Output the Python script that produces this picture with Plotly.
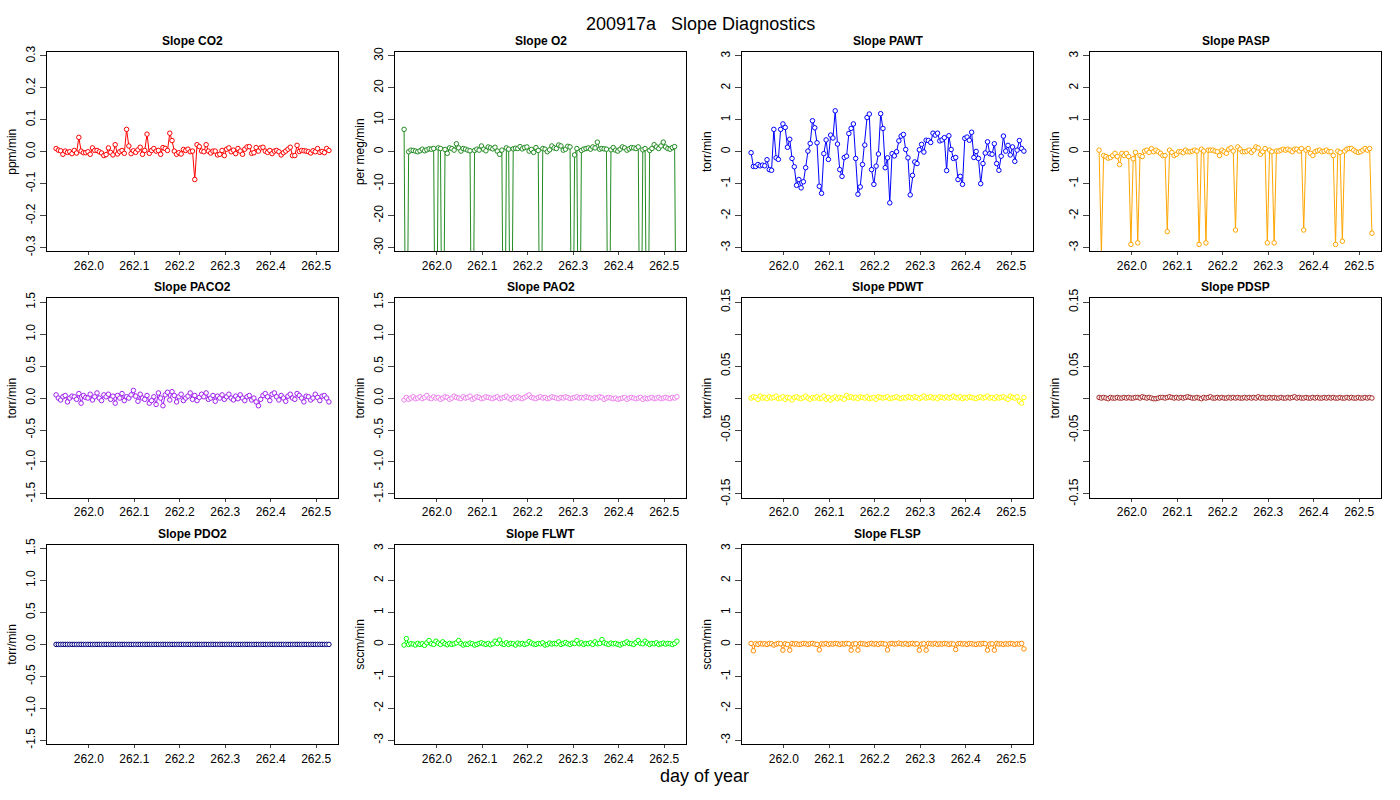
import plotly.graph_objects as go

# day of year for each sample
doy = [261.928, 261.933, 261.938, 261.943, 261.948, 261.953, 261.958, 261.963, 261.968, 261.973,
       261.978, 261.983, 261.988, 261.993, 261.998, 262.003, 262.008, 262.013, 262.018, 262.023,
       262.028, 262.033, 262.038, 262.043, 262.048, 262.053, 262.058, 262.063, 262.068, 262.073,
       262.078, 262.083, 262.088, 262.093, 262.098, 262.103, 262.108, 262.113, 262.118, 262.123,
       262.128, 262.133, 262.138, 262.143, 262.148, 262.153, 262.158, 262.163, 262.168, 262.173,
       262.178, 262.183, 262.188, 262.193, 262.198, 262.203, 262.208, 262.213, 262.218, 262.223,
       262.228, 262.233, 262.238, 262.243, 262.248, 262.253, 262.258, 262.263, 262.268, 262.273,
       262.278, 262.283, 262.288, 262.293, 262.298, 262.303, 262.308, 262.313, 262.318, 262.323,
       262.328, 262.333, 262.338, 262.343, 262.348, 262.353, 262.358, 262.363, 262.368, 262.373,
       262.378, 262.383, 262.388, 262.393, 262.398, 262.403, 262.408, 262.413, 262.418, 262.423,
       262.428, 262.433, 262.438, 262.443, 262.448, 262.453, 262.458, 262.463, 262.468, 262.473,
       262.478, 262.483, 262.488, 262.493, 262.498, 262.503, 262.508, 262.513, 262.518, 262.523,
       262.528]

co2 = [0.010, 0.005, 0.003, -0.008, 0.002, -0.002, 0.000, -0.006, 0.004, -0.004,
       0.045, 0.002, -0.003, -0.003, 0.000, -0.008, 0.012, 0.004, 0.004, 0.000,
       -0.004, -0.012, -0.009, 0.012, -0.002, -0.010, 0.022, -0.007, 0.000, 0.004,
       -0.005, 0.070, 0.018, -0.006, 0.003, -0.002, 0.006, 0.014, -0.008, 0.004,
       0.055, -0.005, 0.004, 0.010, 0.002, 0.004, -0.008, 0.013, 0.010, 0.004,
       0.058, 0.035, 0.002, -0.008, -0.003, -0.007, 0.007, 0.004, 0.008, 0.000,
       0.002, -0.087, 0.022, 0.016, 0.002, 0.000, 0.022, 0.002, -0.004, 0.002,
       0.002, -0.010, -0.008, 0.004, -0.012, 0.008, 0.012, 0.000, 0.005, -0.006,
       0.010, 0.002, -0.008, 0.008, 0.015, 0.016, -0.005, -0.003, 0.013, 0.002,
       0.012, 0.014, 0.002, -0.002, 0.004, -0.006, 0.002, 0.004, 0.000, -0.010,
       -0.003, 0.002, 0.008, 0.014, -0.012, -0.012, 0.020, 0.001, 0.004, 0.003,
       0.002, 0.000, -0.004, 0.003, 0.000, 0.010, -0.002, 0.001, -0.003, 0.010,
       0.004]

o2 = [7.0, -100, 0.0, 0.5, 0.4, 0.2, 0.0, 0.3, 0.8, 0.3,
      0.6, 0.9, 0.8, 1.0, -100, 1.2, 1.0, -100, 0.7, -0.5,
      1.2, 1.0, 0.5, 2.5, 1.2, 0.2, 1.0, 0.8, 0.5, 0.3,
      -100, 0.4, 0.8, 0.5, 1.8, 0.8, 0.3, 1.5, 1.2, 0.9,
      1.4, 0.2, -0.8, 0.5, -100, 1.2, 0.8, -100, 0.9, 1.1,
      1.0, 1.6, 0.9, 1.3, 1.5, 0.2, 0.7, -0.2, 1.3, 0.4,
      -100, 1.0, 0.8, 0.0, 0.6, 1.8, 1.2, 1.0, 2.1, 1.8,
      0.5, 0.8, 1.7, 1.5, -100, -1.0, 1.0, -100, 0.4, 0.8,
      1.0, 1.2, 0.8, 1.5, 1.2, 3.0, 0.8, 1.0, 0.9, 0.8,
      -100, 0.6, 1.3, 0.5, 0.2, 0.8, 1.5, 1.2, 0.5, 0.9,
      1.3, 1.2, 1.0, 1.5, -100, 0.6, 1.0, -100, 0.4, 1.0,
      2.2, 1.5, 1.0, 1.8, 3.0, 1.5, 1.0, 0.8, 1.3, 1.6,
      -100]

pawt = [-0.03, -0.46, -0.46, -0.40, -0.44, -0.42, -0.44, -0.25, -0.56, -0.58,
        0.70, -0.19, -0.24, 0.70, 0.87, 0.76, 0.14, 0.39, -0.21, -0.47,
        -1.05, -0.87, -1.13, -0.94, -0.50, 0.02, 0.26, 0.97, 0.75, 0.28,
        -1.08, -1.30, -0.06, 0.37, -0.24, 0.52, 0.43, 1.28, 0.24, -0.56,
        -0.77, -0.18, -0.14, 0.57, 0.73, 0.87, -0.21, -1.33, -1.10, -0.40,
        0.21, 1.07, 1.18, -0.56, -1.02, -0.45, -0.07, 1.19, 0.73, -0.50,
        -0.19, -1.60, -0.06, -0.13, 0.00, 0.34, 0.49, 0.54, 0.07, -0.19,
        -1.35, -0.74, -0.32, -0.37, 0.06, 0.23, -0.01, 0.36, 0.35, 0.29,
        0.58, 0.52, 0.58, 0.34, 0.37, 0.44, -0.59, 0.50, 0.07, -0.21,
        -0.18, -0.87, -0.77, -1.02, 0.42, 0.46, 0.36, 0.61, -0.18, 0.01,
        -0.21, -1.00, -0.37, -0.04, 0.31, -0.06, -0.08, 0.25, -0.37, -0.58,
        -0.14, 0.49, 0.02, 0.20, -0.10, 0.15, -0.30, 0.05, 0.35, 0.10,
        0.02]

pasp = [0.05, -3.2, -0.12, -0.15, -0.2, -0.18, -0.12, -0.05, -0.15, -0.4,
        -0.05, -0.12, -0.05, -0.15, -2.9, -0.22, -0.02, -2.85, -0.12, -0.15,
        0.02, 0.05, -0.02, 0.1, 0.0, 0.05, 0.0, -0.05, -0.12, -0.12,
        -2.5, 0.05, -0.02, -0.12, -0.08, 0.0, 0.0, -0.03, 0.05, 0.0,
        0.0, 0.02, 0.05, 0.02, -2.9, 0.08, 0.02, -2.85, 0.05, 0.05,
        0.05, 0.02, 0.0, -0.12, 0.05, 0.0, -0.05, 0.08, 0.12, 0.02,
        -2.45, 0.15, 0.08, 0.0, 0.0, 0.02, 0.05, -0.02, 0.05, 0.15,
        0.12, -0.08, 0.0, 0.1, -2.85, 0.05, 0.0, -2.85, 0.02, 0.02,
        0.05, 0.08, 0.05, 0.08, 0.05, 0.0, 0.08, 0.08, 0.02, 0.1,
        -2.45, 0.05, 0.1, -0.05, -0.12, 0.0, 0.03, 0.05, 0.0, 0.02,
        0.05, 0.0, 0.0, -0.12, -2.9, 0.02, -0.02, -2.8, 0.02, 0.08,
        0.1, 0.1, 0.05, 0.0, -0.02, 0.0, 0.05, 0.1, 0.05, 0.1,
        -2.55]

paco2 = [0.05, 0.00, -0.03, 0.02, 0.04, -0.06, 0.00, 0.03, 0.02, -0.02,
         0.07, -0.08, 0.04, 0.01, 0.00, 0.06, -0.03, 0.02, 0.08, 0.00,
         -0.04, 0.05, 0.02, 0.06, -0.02, 0.03, -0.08, 0.04, 0.00, 0.07,
         -0.04, 0.02, 0.00, 0.05, 0.12, 0.03, -0.05, 0.06, 0.00, -0.02,
         0.04, -0.08, -0.04, 0.02, -0.10, 0.08, 0.00, -0.12, 0.05, 0.09,
         -0.03, 0.10, 0.04, -0.06, 0.02, 0.06, -0.04, 0.00, 0.03, 0.08,
         -0.02, 0.04, -0.04, 0.01, 0.06, 0.02, 0.08, -0.02, 0.00, 0.04,
         -0.05, 0.03, 0.00, 0.05, -0.02, 0.02, 0.06, 0.00, -0.03, 0.03,
         -0.01, 0.05, 0.00, -0.04, 0.02, 0.04, -0.03, 0.00, -0.06, -0.12,
         -0.02, 0.04, 0.07, 0.02, -0.04, 0.06, 0.08, 0.02, -0.03, 0.04,
         0.00, -0.05, 0.03, 0.06, 0.00, -0.02, 0.07, 0.04, 0.00, -0.06,
         0.03, 0.02, -0.03, 0.00, 0.06, 0.01, -0.04, 0.03, 0.04, 0.00,
         -0.06]

pao2 = [-0.03, 0.01, -0.02, 0.00, 0.02, -0.01, 0.00, 0.02, -0.01, 0.01,
        0.04, 0.00, -0.01, 0.02, 0.00, 0.01, -0.02, 0.00, 0.02, 0.01,
        -0.02, 0.00, 0.03, 0.01, 0.00, -0.01, 0.02, 0.00, 0.01, 0.03,
        -0.02, 0.00, 0.02, 0.01, -0.01, 0.00, 0.02, 0.01, 0.00, -0.01,
        0.01, 0.02, -0.01, 0.00, 0.01, 0.03, 0.00, -0.02, 0.01, 0.00,
        0.02, 0.00, -0.01, 0.01, 0.03, 0.05, 0.01, 0.00, -0.01, 0.01,
        0.02, 0.00, 0.01, -0.01, 0.00, 0.02, 0.01, 0.00, -0.01, 0.01,
        0.00, 0.02, 0.01, -0.01, 0.00, 0.01, 0.02, 0.00, 0.01, 0.00,
        0.02, 0.01, 0.00, -0.01, 0.01, 0.00, 0.02, 0.01, -0.02, 0.00,
        0.01, 0.00, -0.01, 0.00, -0.02, -0.01, 0.00, 0.01, -0.02, 0.00,
        0.01, 0.00, -0.01, 0.00, 0.01, -0.02, 0.00, -0.01, 0.00, 0.01,
        -0.01, 0.00, 0.01, -0.01, 0.00, 0.01, 0.00, -0.01, 0.01, 0.00,
        0.02]

pdwt = [0.000, 0.002, 0.001, -0.002, 0.003, 0.000, 0.001, -0.001, 0.002, 0.000,
        0.001, 0.003, -0.001, 0.000, 0.002, -0.002, 0.001, 0.000, -0.003, 0.001,
        0.002, 0.000, -0.001, 0.001, 0.003, 0.000, -0.002, 0.001, 0.000, 0.002,
        -0.001, 0.000, 0.003, -0.002, 0.001, -0.003, 0.000, 0.002, -0.001, 0.001,
        0.000, -0.002, 0.004, 0.001, 0.002, 0.000, 0.001, -0.001, 0.002, 0.001,
        0.000, 0.002, -0.001, 0.000, 0.001, -0.002, 0.002, 0.001, 0.000, 0.001,
        0.002, -0.001, 0.000, 0.001, 0.002, 0.000, -0.001, 0.001, 0.000, 0.002,
        0.001, 0.000, 0.002, 0.001, -0.001, 0.001, 0.003, 0.000, 0.001, 0.002,
        0.000, 0.001, -0.001, 0.002, 0.001, 0.000, 0.002, 0.000, 0.001, 0.003,
        0.001, 0.000, 0.002, -0.001, 0.001, 0.000, 0.002, 0.001, 0.000, -0.001,
        0.001, 0.002, 0.000, 0.001, 0.003, 0.000, 0.001, -0.001, 0.002, 0.000,
        0.001, 0.002, 0.000, -0.002, 0.003, 0.001, 0.000, 0.002, -0.005, -0.008,
        0.001]

pdsp = [0.001, 0.000, 0.001, 0.000, -0.001, 0.001, 0.000, 0.000, 0.001, 0.000,
        0.000, 0.001, 0.000, 0.001, 0.000, 0.000, 0.001, 0.001, 0.000, 0.002,
        0.001, 0.000, 0.001, 0.000, -0.001, -0.001, 0.000, 0.001, 0.001, 0.000,
        0.001, 0.002, 0.001, 0.000, 0.001, 0.000, 0.001, 0.000, 0.001, 0.002,
        0.001, 0.000, 0.000, 0.001, 0.000, -0.001, 0.001, 0.000, 0.001, 0.002,
        0.000, 0.000, 0.001, 0.000, 0.001, 0.000, 0.000, 0.001, 0.000, 0.001,
        0.000, 0.001, 0.000, 0.000, 0.001, 0.000, 0.001, 0.000, 0.001, 0.000,
        0.002, 0.000, 0.001, 0.000, 0.000, 0.001, 0.000, 0.001, 0.000, 0.000,
        0.001, 0.000, 0.000, 0.001, 0.000, 0.001, 0.002, 0.000, 0.001, 0.000,
        0.000, 0.001, 0.000, 0.000, 0.001, 0.000, 0.001, 0.000, 0.000, 0.001,
        0.000, 0.001, 0.000, 0.001, 0.000, 0.000, 0.001, 0.000, 0.000, 0.001,
        0.000, 0.001, 0.000, 0.000, 0.001, 0.000, 0.000, 0.001, 0.000, 0.001,
        0.000]

pdo2 = [0.0] * len(doy)

flwt = [-0.02, 0.18, 0.00, 0.02, 0.01, -0.02, 0.03, 0.00, 0.02, -0.03,
        0.05, 0.12, 0.02, 0.00, 0.10, 0.04, 0.00, 0.08, 0.02, -0.01,
        0.03, 0.00, 0.02, 0.05, 0.12, 0.03, -0.02, 0.01, 0.00, 0.04,
        0.02, -0.02, 0.00, 0.03, 0.05, 0.02, 0.00, 0.03, -0.01, 0.02,
        0.10, 0.03, 0.14, 0.02, 0.00, 0.05, 0.00, 0.03, 0.02, -0.02,
        0.04, 0.01, 0.03, 0.00, 0.02, 0.09, 0.04, 0.01, 0.00, 0.03,
        0.02, 0.05, -0.02, 0.00, 0.04, 0.01, 0.03, 0.02, 0.08, 0.00,
        0.03, 0.06, 0.02, 0.00, 0.04, 0.03, 0.12, 0.02, 0.05, 0.00,
        0.03, 0.02, 0.05, 0.00, 0.08, 0.02, 0.03, 0.15, 0.05, 0.02,
        0.00, 0.04, 0.02, 0.03, 0.00, -0.02, 0.02, 0.04, 0.08, 0.03,
        0.02, 0.00, 0.06, 0.12, 0.03, 0.02, 0.10, 0.04, 0.00, 0.03,
        0.02, 0.05, 0.00, 0.02, 0.04, 0.01, 0.03, 0.02, 0.00, 0.03,
        0.10]

flsp = [0.03, -0.20, 0.02, 0.00, 0.03, 0.01, 0.02, 0.00, 0.03, 0.02,
        -0.02, 0.01, 0.03, 0.02, -0.18, 0.02, 0.00, -0.18, 0.03, 0.01,
        0.02, 0.00, 0.01, 0.03, 0.02, 0.00, 0.02, 0.03, 0.01, 0.00,
        -0.17, 0.02, 0.01, 0.03, 0.00, 0.02, 0.01, 0.03, 0.02, 0.00,
        0.02, 0.01, 0.03, 0.02, -0.18, 0.01, 0.02, -0.18, 0.03, 0.02,
        0.01, 0.00, 0.02, 0.03, 0.01, 0.02, 0.00, 0.03, 0.02, 0.01,
        -0.17, 0.02, 0.03, 0.01, 0.02, 0.04, 0.02, 0.01, 0.03, 0.00,
        0.02, 0.03, 0.01, 0.02, -0.18, 0.01, 0.02, -0.18, 0.03, 0.02,
        0.01, 0.03, 0.00, 0.02, 0.01, 0.03, 0.02, 0.00, 0.02, 0.01,
        -0.16, 0.02, 0.03, 0.01, 0.02, 0.00, 0.03, 0.02, 0.01, 0.00,
        0.02, 0.01, 0.03, 0.02, -0.18, 0.01, 0.02, -0.18, 0.03, 0.01,
        0.02, 0.00, 0.02, 0.01, 0.03, 0.02, 0.00, 0.02, 0.01, 0.03,
        -0.14]

day_ticks = [262.0, 262.1, 262.2, 262.3, 262.4, 262.5]


def ticks(vals, fmt, show=None):
    text = [fmt.format(v) if (show is None or v in show) else "" for v in vals]
    return vals, text


panels = [
    ("Slope CO2", co2, "#FF0000", "ppm/min", 0.3, ticks([-0.3, -0.2, -0.1, 0.0, 0.1, 0.2, 0.3], "{:.1f}")),
    ("Slope O2", o2, "#228B22", "per meg/min", 30, ticks([-30, -20, -10, 0, 10, 20, 30], "{:d}")),
    ("Slope PAWT", pawt, "#0000FF", "torr/min", 3, ticks([-3, -2, -1, 0, 1, 2, 3], "{:d}")),
    ("Slope PASP", pasp, "#FFA500", "torr/min", 3, ticks([-3, -2, -1, 0, 1, 2, 3], "{:d}")),
    ("Slope PACO2", paco2, "#A020F0", "torr/min", 1.5,
     ticks([-1.5, -1.0, -0.5, 0.0, 0.5, 1.0, 1.5], "{:.1f}")),
    ("Slope PAO2", pao2, "#EE82EE", "torr/min", 1.5,
     ticks([-1.5, -1.0, -0.5, 0.0, 0.5, 1.0, 1.5], "{:.1f}")),
    ("Slope PDWT", pdwt, "#FFFF00", "torr/min", 0.15,
     ticks([-0.15, -0.1, -0.05, 0.0, 0.05, 0.1, 0.15], "{:.2f}", [-0.15, -0.05, 0.05, 0.15])),
    ("Slope PDSP", pdsp, "#A52A2A", "torr/min", 0.15,
     ticks([-0.15, -0.1, -0.05, 0.0, 0.05, 0.1, 0.15], "{:.2f}", [-0.15, -0.05, 0.05, 0.15])),
    ("Slope PDO2", pdo2, "#000080", "torr/min", 1.5,
     ticks([-1.5, -1.0, -0.5, 0.0, 0.5, 1.0, 1.5], "{:.1f}")),
    ("Slope FLWT", flwt, "#00FF00", "sccm/min", 3, ticks([-3, -2, -1, 0, 1, 2, 3], "{:d}")),
    ("Slope FLSP", flsp, "#FF8C00", "sccm/min", 3, ticks([-3, -2, -1, 0, 1, 2, 3], "{:d}")),
]

W, H = 1400, 800
cols_px = [(47, 338), (395, 686), (742, 1033), (1090, 1381)]
rows_px = [(43, 247), (295, 499), (547, 751)]
font = "Liberation Sans, Arial, sans-serif"

fig = go.Figure()
layout = {}
annotations = []
for i, (name, vals, color, unit, lim, (tv, tt)) in enumerate(panels):
    r, c = divmod(i, 4)
    n = i + 1
    xa = "x" if n == 1 else f"x{n}"
    ya = "y" if n == 1 else f"y{n}"
    fig.add_trace(go.Scatter(
        x=doy, y=vals, xaxis=xa, yaxis=ya, mode="lines+markers",
        line=dict(color=color, width=1),
        marker=dict(symbol="circle", size=4.5, color="white", line=dict(color=color, width=1)),
        showlegend=False, cliponaxis=True))
    x0, x1 = cols_px[c]
    y0, y1 = rows_px[r]
    ax = dict(domain=[x0 / W, x1 / W], range=[261.908, 262.548], anchor=ya,
              tickvals=day_ticks, ticktext=[f"{t:.1f}" for t in day_ticks],
              showgrid=False, zeroline=False, showline=True, mirror=True,
              linecolor="black", linewidth=1, ticks="outside", ticklen=3,
              tickfont=dict(size=12, family=font, color="black"))
    ay = dict(domain=[1 - y1 / H, 1 - y0 / H], range=[-lim * 1.04, lim * 1.04], anchor=xa,
              tickvals=tv, ticktext=tt, tickangle=-90,
              showgrid=False, zeroline=False, showline=True, mirror=True,
              linecolor="black", linewidth=1, ticks="outside", ticklen=6,
              tickfont=dict(size=12, family=font, color="black"),
              title=dict(text=unit, standoff=4, font=dict(size=12, family=font, color="black")))
    layout["xaxis" if n == 1 else f"xaxis{n}"] = ax
    layout["yaxis" if n == 1 else f"yaxis{n}"] = ay
    annotations.append(dict(text=f"<b>{name}</b>", x=(x0 + x1) / 2 / W, y=1 - (y0 - 2) / H,
                            xref="paper", yref="paper", xanchor="center", yanchor="bottom",
                            showarrow=False, font=dict(size=12, family=font, color="black")))

annotations.append(dict(text="200917a   Slope Diagnostics", x=0.5, y=1 - 2 / H, xref="paper", yref="paper",
                        xanchor="center", yanchor="top", showarrow=False,
                        font=dict(size=18, family=font, color="black")))
annotations.append(dict(text="day of year", x=0.503, y=1 - 796 / H, xref="paper", yref="paper",
                        xanchor="center", yanchor="bottom", showarrow=False,
                        font=dict(size=18, family=font, color="black")))

fig.update_layout(**layout)
fig.update_layout(width=W, height=H, margin=dict(l=0, r=0, t=0, b=0),
                  plot_bgcolor="white", paper_bgcolor="white", annotations=annotations)
fig.write_html("out.html", config={"displayModeBar": False},
               post_script="document.body.style.margin='0';")
